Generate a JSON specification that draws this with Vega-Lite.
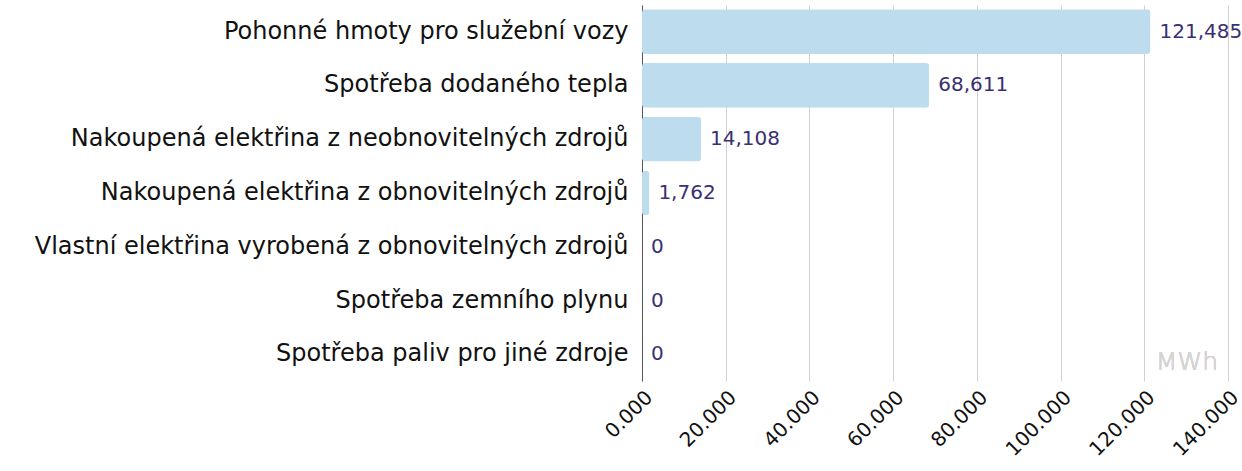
{
  "$schema": "https://vega.github.io/schema/vega-lite/v6.json",
  "width": 586,
  "height": 376,
  "autosize": {"type": "none"},
  "padding": {"left": 642, "top": 5, "right": 14, "bottom": 90},
  "background": "white",
  "config": {
    "view": {"stroke": null},
    "font": "DejaVu Sans"
  },
  "data": {
    "values": [
      {"kategorie": "Pohonné hmoty pro služební vozy", "hodnota": 121485},
      {"kategorie": "Spotřeba dodaného tepla", "hodnota": 68611},
      {"kategorie": "Nakoupená elektřina z neobnovitelných zdrojů", "hodnota": 14108},
      {"kategorie": "Nakoupená elektřina z obnovitelných zdrojů", "hodnota": 1762},
      {"kategorie": "Vlastní elektřina vyrobená z obnovitelných zdrojů", "hodnota": 0},
      {"kategorie": "Spotřeba zemního plynu", "hodnota": 0},
      {"kategorie": "Spotřeba paliv pro jiné zdroje", "hodnota": 0}
    ]
  },
  "encoding": {
    "y": {
      "field": "kategorie",
      "type": "nominal",
      "sort": null,
      "scale": {"paddingInner": 0.17, "paddingOuter": 0.08},
      "axis": {
        "title": null,
        "ticks": false,
        "labelFontSize": 24,
        "labelColor": "#111111",
        "labelPadding": 14,
        "labelLimit": 700,
        "domainColor": "#555555",
        "domainWidth": 1,
        "grid": false
      }
    }
  },
  "layer": [
    {
      "mark": {"type": "bar", "color": "#bddcee", "cornerRadius": 3},
      "encoding": {
        "x": {
          "field": "hodnota",
          "type": "quantitative",
          "scale": {"domain": [0, 140000], "nice": false},
          "axis": {
            "title": null,
            "values": [0, 20000, 40000, 60000, 80000, 100000, 120000, 140000],
            "labelExpr": "datum.value == 0 ? '0.000' : replace(format(datum.value, ','), ',', '.')",
            "labelAngle": -45,
            "labelFontSize": 20,
            "labelColor": "#111111",
            "labelPadding": 6,
            "labelDx": -8,
            "labelOverlap": false,
            "labelBound": false,
            "ticks": false,
            "domain": false,
            "grid": true,
            "gridColor": "#d0d0d0",
            "gridWidth": 1
          }
        }
      }
    },
    {
      "mark": {"type": "text", "align": "left", "dx": 9, "fontSize": 20, "color": "#3a2f70"},
      "encoding": {
        "x": {"field": "hodnota", "type": "quantitative"},
        "text": {"field": "hodnota", "type": "quantitative", "format": ","}
      }
    },
    {
      "mark": {"type": "text", "align": "right", "dx": -10, "dy": 8, "fontSize": 25, "fontWeight": 300, "color": "#d4d4d4", "text": "MWh"},
      "encoding": {
        "x": {"datum": 140000, "type": "quantitative"},
        "y": {"datum": "Spotřeba paliv pro jiné zdroje", "type": "nominal"}
      }
    }
  ]
}
